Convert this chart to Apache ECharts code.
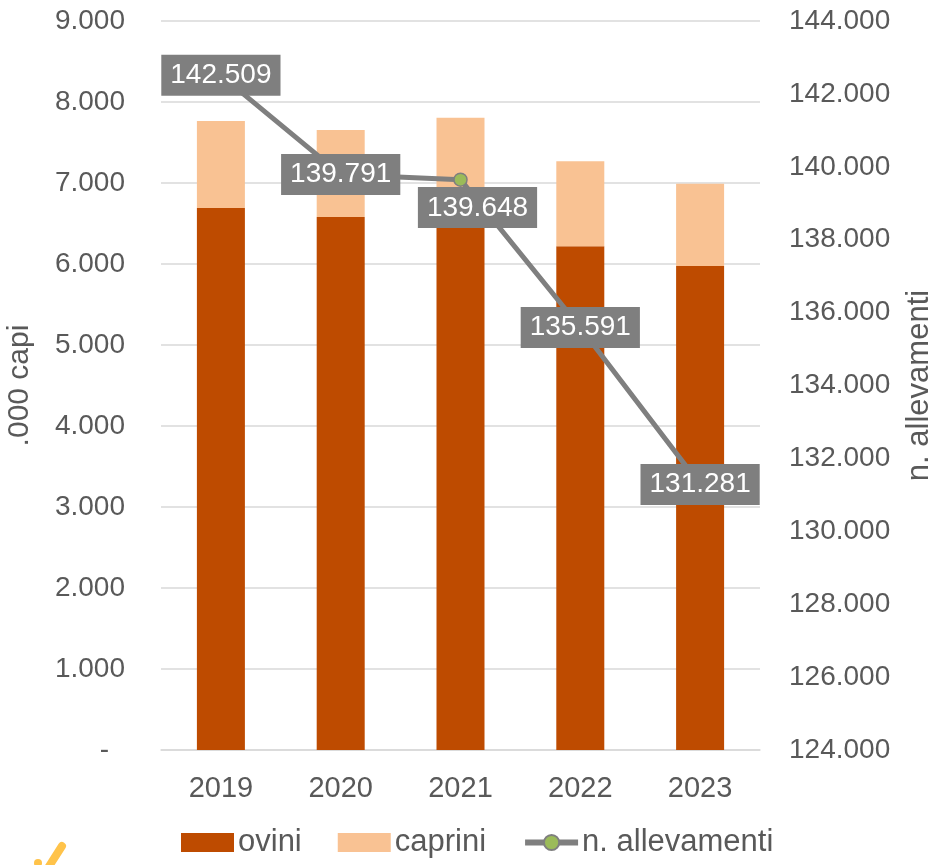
<!DOCTYPE html>
<html>
<head>
<meta charset="utf-8">
<script src="https://cdn.jsdelivr.net/npm/echarts@6/dist/echarts.min.js"></script>
<style>
  html, body { margin: 0; padding: 0; background: #fff; }
  #chart { width: 941px; height: 865px; }
</style>
</head>
<body>
<div id="chart"></div>
<script>
// dati
const anni = ['2019', '2020', '2021', '2022', '2023']
const ovini = [6690, 6580, 6520, 6220, 5975]
const caprini = [1075, 1075, 1285, 1050, 1015]
const allevamenti = [142509, 139791, 139648, 135591, 131281]

// numeri con il punto delle migliaia
function fmt(v) {
    return String(Math.round(v)).replace(/\B(?=(\d{3})+(?!\d))/g, '.')
}

const font = 'Liberation Sans, Arial, sans-serif'
const grigio = '#595959'
const fs = 28

const myChart = echarts.init(document.querySelector('#chart'))
const option = {
    animation: false,
    textStyle: { fontFamily: font },
    grid: { left: 161, right: 181, top: 21, bottom: 115, containLabel: false, outerBoundsMode: 'none' },
    legend: {
        bottom: 2,
        left: 176,
        itemWidth: 53,
        itemHeight: 19,
        itemGap: 36,
        textStyle: { fontSize: 31, color: grigio, fontFamily: font, padding: [0, 0, 0, -1] },
        data: [
            { name: 'ovini', icon: 'rect' },
            { name: 'caprini', icon: 'rect' },
            { name: 'n. allevamenti', lineStyle: { width: 6, color: '#7F7F7F' } }
        ]
    },
    xAxis: {
        type: 'category',
        data: anni,
        axisLine: { lineStyle: { color: '#D9D9D9', width: 1.5 } },
        axisTick: { show: false },
        axisLabel: { fontSize: 29, color: grigio, margin: 24 }
    },
    yAxis: [
        {
            type: 'value',
            min: 0,
            max: 9000,
            interval: 1000,
            name: '.000 capi',
            nameLocation: 'middle',
            nameRotate: 90,
            nameGap: 126,
            nameTextStyle: { fontSize: 30, color: grigio },
            axisLine: { show: false },
            axisTick: { show: false },
            splitLine: { lineStyle: { color: '#D9D9D9', width: 1.5 } },
            axisLabel: {
                fontSize: fs,
                color: grigio,
                margin: 36,
                formatter: v => v === 0 ? '{d|-}' : fmt(v),
                rich: { d: { fontSize: fs, color: grigio, padding: [0, 16, 0, 0] } }
            }
        },
        {
            type: 'value',
            min: 124000,
            max: 144000,
            interval: 2000,
            name: 'n. allevamenti',
            nameLocation: 'middle',
            nameRotate: 90,
            nameGap: 144,
            nameTextStyle: { fontSize: 31, color: grigio },
            axisLine: { show: false },
            axisTick: { show: false },
            splitLine: { show: false },
            axisLabel: { fontSize: fs, color: grigio, margin: 29, formatter: v => fmt(v) }
        }
    ],
    series: [
        {
            name: 'ovini',
            type: 'bar',
            stack: 'capi',
            barWidth: 48,
            itemStyle: { color: '#BE4B00' },
            data: ovini
        },
        {
            name: 'caprini',
            type: 'bar',
            stack: 'capi',
            barWidth: 48,
            itemStyle: { color: '#F9C293' },
            data: caprini
        },
        {
            name: 'n. allevamenti',
            type: 'line',
            yAxisIndex: 1,
            z: 5,
            symbol: 'circle',
            symbolSize: 13,
            itemStyle: { color: '#9BBB59', borderColor: '#7F7F7F', borderWidth: 1.5 },
            lineStyle: { color: '#7F7F7F', width: 5 },
            label: {
                show: true,
                position: 'inside',
                formatter: p => fmt(p.value),
                fontSize: fs,
                color: '#fff',
                backgroundColor: '#7F7F7F',
                padding: [7, 9, 6, 9]
            },
            data: allevamenti.map((v, i) => i === 2
                ? { value: v, label: { position: 'bottom', distance: 0, offset: [17, 0] } }
                : v)
        }
    ],
    graphic: [
        {
            type: 'polyline',
            shape: { points: [[62, 846], [48, 868]] },
            style: { stroke: '#FFC34A', lineWidth: 8, lineCap: 'round', fill: null }
        },
        {
            type: 'circle',
            shape: { cx: 38, cy: 863, r: 4 },
            style: { fill: '#FFC34A' }
        }
    ]
}
myChart.setOption(option)
</script>
</body>
</html>
